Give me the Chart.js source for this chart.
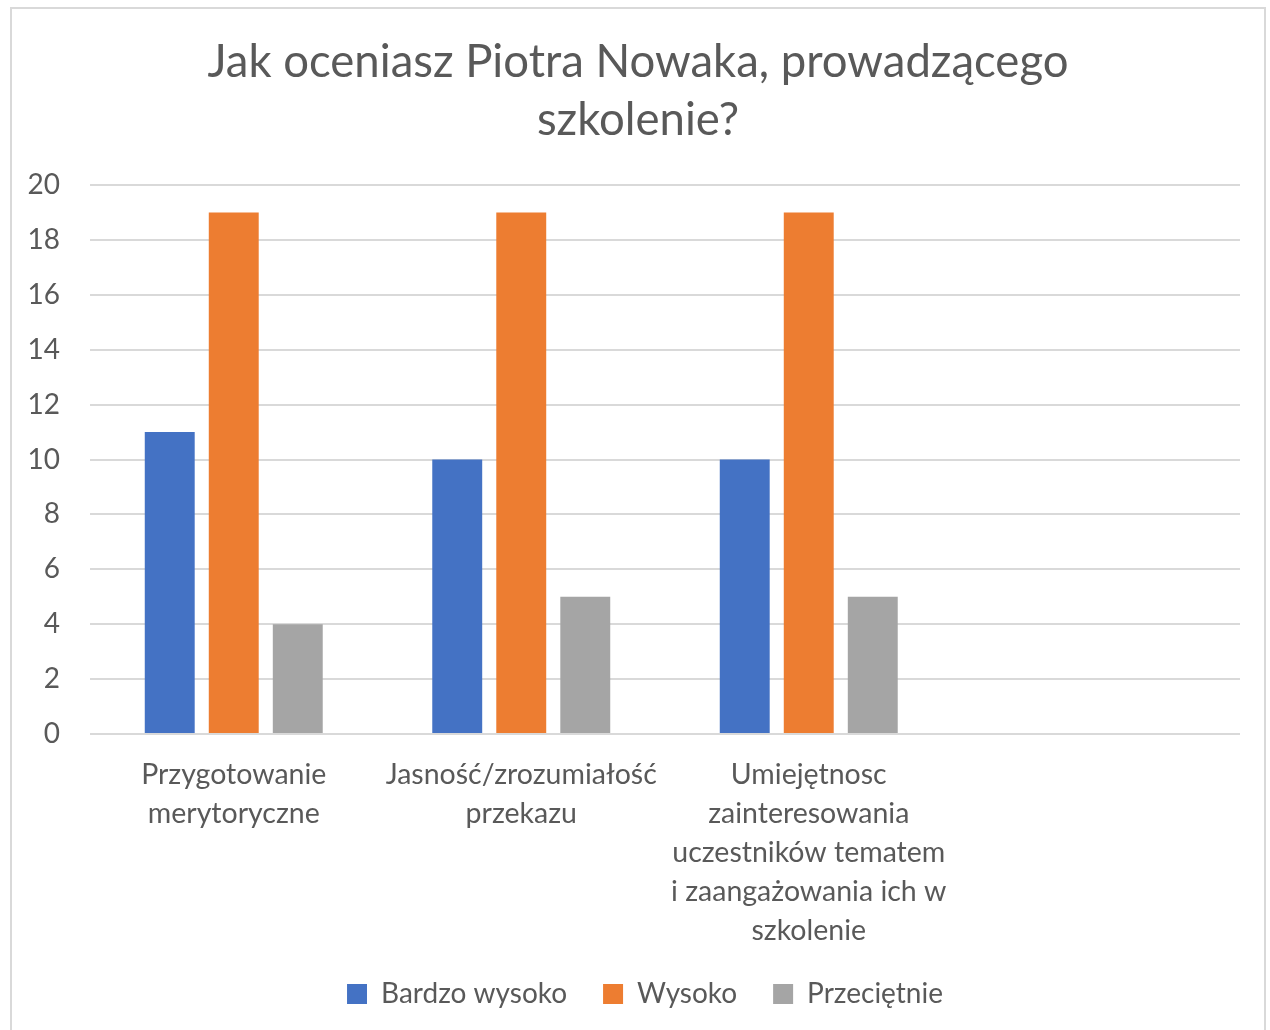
<!DOCTYPE html>
<html>
<head>
<meta charset="utf-8">
<script src="https://cdn.jsdelivr.net/npm/chart.js@4"></script>
<style>
  body { margin: 0; background: #fff; }
  #frame { position: absolute; left: 10px; top: 7px; width: 1256px; height: 1030px; border: 2px solid #d9d9d9; box-sizing: border-box; }
  #wrap { position: absolute; left: 0; top: 0; width: 1270px; height: 1030px; }
</style>
</head>
<body>
<div id="frame"></div>
<div id="wrap"><canvas id="bar-chart" width="1270" height="1030"></canvas></div>
<script>
let categories = [
  ["Przygotowanie", "merytoryczne"],
  ["Jasność/zrozumiałość", "przekazu"],
  ["Umiejętnosc", "zainteresowania", "uczestników tematem", "i zaangażowania ich w", "szkolenie"],
  "",
];
let bardzoWysoko = [11, 10, 10, null];
let wysoko = [19, 19, 19, null];
let przecietnie = [4, 5, 5, null];
let yTicks = [0, 2, 4, 6, 8, 10, 12, 14, 16, 18, 20];

let ctx = document.getElementById("bar-chart").getContext("2d");
let font = "Lato, 'Open Sans', sans-serif";
let grey = "#595959";

let bars = { barPercentage: 0.78, categoryPercentage: 0.668, borderWidth: 0 };

// title and legend sit a little right of the plot centre in the original
let nudge = {
  id: "nudge",
  afterLayout(chart) {
    chart.titleBlock.left += 8;
    chart.titleBlock.right += 8;
    chart.legend.left += 15;
    chart.legend.right += 15;
  },
};

let chart = new Chart(ctx, {
  type: "bar",
  data: {
    labels: categories,
    datasets: [
      { label: "Bardzo wysoko", data: bardzoWysoko, backgroundColor: "#4472C4", ...bars },
      { label: "Wysoko", data: wysoko, backgroundColor: "#ED7D31", ...bars },
      { label: "Przeciętnie", data: przecietnie, backgroundColor: "#A5A5A5", ...bars },
    ],
  },
  plugins: [nudge],
  options: {
    responsive: false,
    animation: false,
    layout: { padding: { left: 20, right: 30, top: 33, bottom: 12 } },
    plugins: {
      title: {
        display: true,
        text: ["Jak oceniasz Piotra Nowaka, prowadzącego", "szkolenie?"],
        color: grey,
        font: { family: font, size: 45.5, weight: "normal", lineHeight: 1.275 },
        padding: { top: 0, bottom: 36 },
      },
      legend: {
        position: "bottom",
        labels: {
          color: grey,
          boxWidth: 20,
          boxHeight: 20,
          padding: 36,
          font: { family: font, size: 28 },
        },
      },
      tooltip: { enabled: false },
    },
    scales: {
      x: {
        grid: { display: false },
        border: { display: false },
        ticks: { color: grey, font: { family: font, size: 28.5, lineHeight: 1.37 }, maxRotation: 0, autoSkip: false, padding: 13 },
        afterFit: (scale) => { scale.height = 210; },
      },
      y: {
        min: 0,
        max: 20,
        border: { display: false },
        grid: { color: "#d9d9d9", lineWidth: 2, drawTicks: false },
        afterBuildTicks: (scale) => { scale.ticks = yTicks.map((v) => ({ value: v })); },
        ticks: { color: grey, font: { family: font, size: 28 }, padding: 30 },
        afterFit: (scale) => { scale.width = 70; },
      },
    },
  },
});
</script>
</body>
</html>
